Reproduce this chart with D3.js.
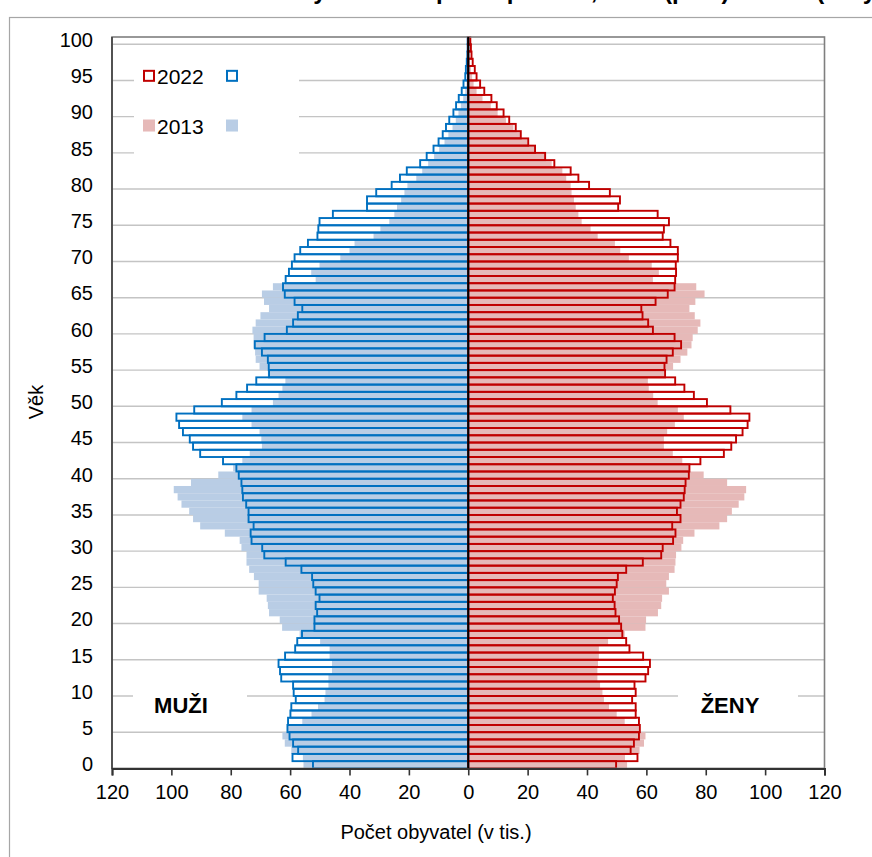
<!DOCTYPE html>
<html><head><meta charset="utf-8">
<script src="https://cdn.jsdelivr.net/npm/d3@7"></script>
<style>
body{margin:0;background:#fff;overflow:hidden}
svg{display:block}
text{font-family:"Liberation Sans",Arial,sans-serif;fill:#000}
</style>
</head><body><svg id="c" width="872" height="857"></svg>
<script>
// ages 0..100
const ages = d3.range(0, 101);
const male2022 = [52.3,59.2,57.3,59.0,60.2,60.9,60.7,59.9,59.6,58.1,
  58.8,59.0,63.0,63.4,63.9,61.7,58.3,57.6,56.0,51.8,
  51.8,50.9,51.4,50.1,51.4,52.2,52.6,56.2,61.5,68.7,
  69.4,73.0,73.3,72.3,74.0,74.0,74.8,75.9,76.1,76.4,
  77.3,78.1,82.6,90.3,92.7,93.8,96.1,97.4,98.3,92.3,
  83.0,78.1,74.5,71.4,67.1,67.2,67.5,69.5,71.9,68.6,
  61.1,59.0,57.4,55.9,58.5,61.8,62.4,61.5,60.4,59.4,
  58.5,56.6,54.0,50.8,50.5,50.1,45.6,34.1,34.1,31.0,
  25.8,23.0,20.7,16.2,14.0,11.7,10.0,8.6,7.5,6.4,
  5.0,4.1,3.2,2.2,1.6,1.0,0.8,0.5,0.3,0.2,0.2];
const male2013 = [55.5,55.7,59.6,61.8,62.6,60.7,55.9,52.8,50.6,48.4,
  48.1,47.1,47.1,45.9,45.9,46.7,46.7,49.9,56.8,62.7,
  63.5,67.1,67.5,67.9,70.6,70.6,72.2,73.8,74.7,74.7,
  76.4,77.0,82.0,90.3,92.7,94.0,96.6,97.9,99.2,93.4,
  84.2,79.2,76.1,73.6,69.5,69.7,70.3,73.0,76.1,73.0,
  65.8,63.9,62.6,61.6,67.5,70.3,71.6,71.8,72.3,72.3,
  72.7,71.6,70.0,67.1,68.8,69.5,65.8,51.4,52.9,50.1,
  43.1,40.0,38.3,31.9,29.6,26.6,24.9,24.0,22.6,21.5,
  20.5,17.5,15.5,13.5,11.5,9.8,8.0,6.7,5.3,4.2,
  3.3,2.5,1.7,1.0,0.6,0.4,0.3,0.2,0.1,0.1,0.1];
const female2022 = [49.8,57.0,54.7,55.8,57.5,57.8,57.5,56.4,56.4,55.2,
  56.4,56.0,59.7,60.6,61.2,58.9,54.3,53.2,51.9,51.5,
  50.8,49.6,49.3,48.7,49.4,50.0,50.4,53.2,58.8,65.0,
  65.5,69.0,69.8,68.7,71.5,70.3,71.5,72.6,72.9,73.2,
  74.3,74.5,78.2,86.1,88.6,90.2,92.4,94.1,94.7,88.3,
  80.4,76.0,72.8,69.7,66.3,66.1,66.8,68.9,71.7,69.5,
  62.2,60.6,58.7,58.3,63.1,67.2,69.5,69.7,70.0,69.9,
  70.6,70.6,68.1,65.5,65.9,67.6,63.8,50.5,51.1,47.7,
  40.7,37.1,34.5,29.0,25.9,22.5,20.2,17.7,16.0,13.8,
  11.9,9.6,7.8,5.4,4.0,2.8,2.2,1.5,1.1,0.9,0.7];
const female2013 = [53.5,52.8,57.7,59.2,59.7,57.5,52.7,50.0,47.4,45.7,
  45.2,44.4,43.5,43.5,43.7,44.0,44.0,47.1,52.7,59.7,
  59.9,63.9,65.0,65.3,67.6,66.7,67.6,69.5,69.8,70.0,
  71.8,72.4,76.2,84.6,87.2,88.8,91.1,93.0,93.6,87.2,
  79.3,74.5,72.1,68.9,65.9,65.9,67.0,69.6,72.6,70.6,
  63.8,62.3,60.8,60.5,66.0,69.0,71.5,73.8,75.2,75.6,
  77.3,78.2,76.3,74.5,76.5,79.6,76.8,62.2,64.2,61.8,
  54.1,51.2,49.4,43.6,41.2,38.2,37.1,36.2,35.6,34.8,
  34.5,33.0,31.7,28.1,25.9,22.5,19.9,17.7,15.2,12.7,
  9.9,7.6,4.8,2.8,1.8,1.3,0.9,0.6,0.4,0.3,0.4];
const xTickValues = [-120,-100,-80,-60,-40,-20,0,20,40,60,80,100,120];
const yTickValues = [0,5,10,15,20,25,30,35,40,45,50,55,60,65,70,75,80,85,90,95,100];
const legendLabels = ["2022", "2013"];
const titleText = "Věková struktura obyvatelstva podle pohlaví, 2013 (plně) a 2022 (obrys)";

const C = {m22:"#0070C0", f22:"#C00000", m13:"#B9CDE5", f13:"#E6B9B8"};
const rows = ages.map((a,i)=>({age:a, m22:male2022[i], m13:male2013[i], f22:female2022[i], f13:female2013[i]}));

const svg = d3.select("#c");
const L=112, R=824.5, T=37, B=768.4;
const x = d3.scaleLinear().domain([-120,120]).range([L,R]);
const y = d3.scaleBand().domain(ages.slice().reverse()).range([T,B]).padding(0);
const bw = y.bandwidth();

// partial title (cut off at top in the reference)
svg.append("text").attr("x",490).attr("y",-1.5).attr("text-anchor","middle")
  .style("font-weight","bold").style("font-size","24px").text(titleText);

// outer chart border
svg.append("rect").attr("x",9.5).attr("y",17.5).attr("width",900).attr("height",900)
  .attr("fill","none").attr("stroke","#a6a6a6").attr("stroke-width",1.2);

// gridlines
svg.append("g").selectAll("line").data(yTickValues.filter(d=>d>0)).join("line")
  .attr("x1",L).attr("x2",R).attr("y1",d=>y(d)+bw).attr("y2",d=>y(d)+bw)
  .attr("stroke","#c4c4c4").attr("stroke-width",1.4);

// 2022 white backgrounds
const g = svg.append("g");
g.selectAll("rect.mw").data(rows).join("rect").attr("class","mw")
  .attr("x",d=>x(-d.m22)).attr("width",d=>x(0)-x(-d.m22))
  .attr("y",d=>y(d.age)).attr("height",bw).attr("fill","#fff");
g.selectAll("rect.fw").data(rows).join("rect").attr("class","fw")
  .attr("x",x(0)).attr("width",d=>x(d.f22)-x(0))
  .attr("y",d=>y(d.age)).attr("height",bw).attr("fill","#fff");
// 2013 fills
g.selectAll("rect.m13").data(rows).join("rect").attr("class","m13")
  .attr("x",d=>x(-d.m13)).attr("width",d=>x(0)-x(-d.m13))
  .attr("y",d=>y(d.age)).attr("height",bw).attr("fill",C.m13);
g.selectAll("rect.f13").data(rows).join("rect").attr("class","f13")
  .attr("x",x(0)).attr("width",d=>x(d.f13)-x(0))
  .attr("y",d=>y(d.age)).attr("height",bw).attr("fill",C.f13);
// 2022 outlines
g.selectAll("rect.m22").data(rows).join("rect").attr("class","m22")
  .attr("x",d=>x(-d.m22)).attr("width",d=>x(0)-x(-d.m22))
  .attr("y",d=>y(d.age)).attr("height",bw).attr("fill","none")
  .attr("stroke",C.m22).attr("stroke-width",1.9);
g.selectAll("rect.f22").data(rows).join("rect").attr("class","f22")
  .attr("x",x(0)).attr("width",d=>x(d.f22)-x(0))
  .attr("y",d=>y(d.age)).attr("height",bw).attr("fill","none")
  .attr("stroke",C.f22).attr("stroke-width",1.9);

// plot border
svg.append("rect").attr("x",L).attr("y",T).attr("width",R-L).attr("height",B-T)
  .attr("fill","none").attr("stroke","#7f7f7f").attr("stroke-width",1.6);
svg.append("line").attr("x1",L).attr("x2",L).attr("y1",T).attr("y2",B)
  .attr("stroke","#404040").attr("stroke-width",1.6);

// zero line
svg.append("line").attr("x1",x(0)).attr("x2",x(0)).attr("y1",T).attr("y2",B)
  .attr("stroke","#000").attr("stroke-width",2);

// x axis
const xa = svg.append("g").attr("transform",`translate(0,${B})`)
  .call(d3.axisBottom(x).tickValues(xTickValues).tickSize(7).tickPadding(9).tickFormat(d=>Math.abs(d)));
xa.select(".domain").attr("stroke","#333").attr("stroke-width",2);
xa.selectAll(".tick line").attr("stroke","#333").attr("stroke-width",1.6);
xa.selectAll(".tick text").style("font-size","20px").style("font-family",'"Liberation Sans",Arial,sans-serif');

// y labels
const ya = svg.append("g").attr("transform",`translate(${L},0)`)
  .call(d3.axisLeft(y).tickValues(yTickValues).tickSize(0).tickPadding(19));
ya.select(".domain").remove();
ya.selectAll(".tick text").style("font-size","20px").style("font-family",'"Liberation Sans",Arial,sans-serif');

// axis titles
svg.append("text").attr("x",436).attr("y",839).attr("text-anchor","middle").style("font-size","20px").text("Počet obyvatel (v tis.)");
svg.append("text").attr("transform","translate(43,402) rotate(-90)").attr("text-anchor","middle").style("font-size","20px").text("Věk");

// legend
const lg = svg.append("g");
lg.append("rect").attr("x",134).attr("y",52).attr("width",165).attr("height",112).attr("fill","#fff");
const ly = [y(95)+bw/2-1, y(88)+bw/2-2];
lg.append("rect").attr("x",144).attr("y",ly[0]-5).attr("width",10).attr("height",10).attr("fill","#fff").attr("stroke",C.f22).attr("stroke-width",2);
lg.append("rect").attr("x",227).attr("y",ly[0]-5).attr("width",10).attr("height",10).attr("fill","#fff").attr("stroke",C.m22).attr("stroke-width",2);
lg.append("rect").attr("x",143).attr("y",ly[1]-6).attr("width",12).attr("height",12).attr("fill",C.f13);
lg.append("rect").attr("x",226).attr("y",ly[1]-6).attr("width",12).attr("height",12).attr("fill",C.m13);
lg.selectAll("text").data(legendLabels).join("text").attr("x",157).attr("y",(d,i)=>ly[i]+8)
  .style("font-size","21px").text(d=>d);

// sex labels
const sx = [{t:"MUŽI", x:181, bx:133, bw:114}, {t:"ŽENY", x:730, bx:678, bw:120}];
sx.forEach(s=>{
  svg.append("rect").attr("x",s.bx).attr("y",682).attr("width",s.bw).attr("height",40).attr("fill","#fff");
  svg.append("text").attr("x",s.x).attr("y",713).attr("text-anchor","middle")
    .style("font-size","22px").style("font-weight","bold").text(s.t);
});
</script>
</body></html>
